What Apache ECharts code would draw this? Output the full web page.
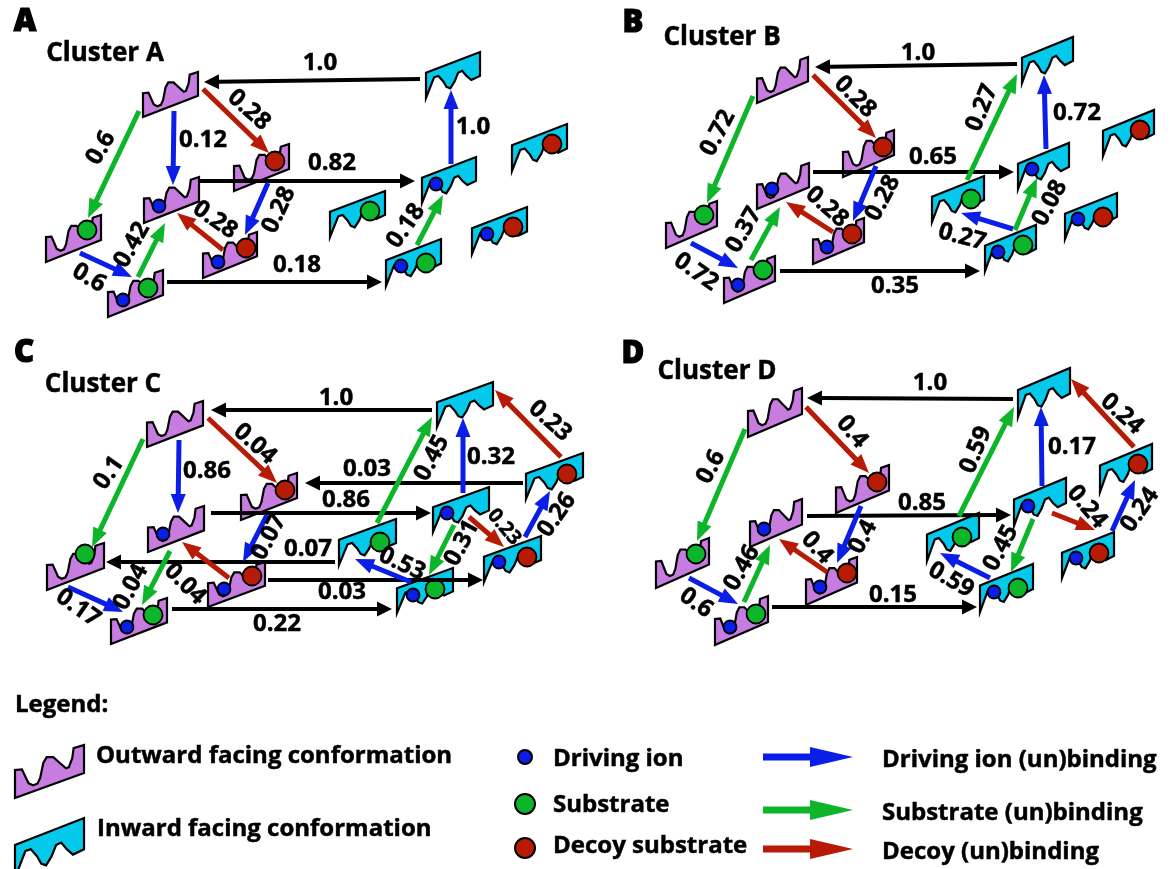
<!DOCTYPE html>
<html><head><meta charset="utf-8">
<style>html,body{margin:0;padding:0;background:#fff}#c{width:1175px;height:869px}</style>
<script src="https://cdn.jsdelivr.net/npm/echarts@6/dist/echarts.min.js"></script>
</head><body><div id="c"></div>
<script>
// Tiles: lower-left x,y then upper-right x,y
const outwardTiles = [
 [143,117,198,72],[46,262,101,215],[144,223,199,177],[234,191,289,144],[203,278,257,232],[108,317,163,270],
 [757,103,808,57],[666,248,717,201],[757,209,809,163],[843,177,894,130],[813,264,864,218],[724,303,775,256],
 [147,447,203,401],[47,590,104,543],[148,552,204,506],[241,520,297,473],[208,607,265,562],[111,644,167,598],
 [748,437,802,388],[656,588,709,538],[750,547,802,499],[836,513,889,465],[806,605,857,557],[715,645,768,596],
 [15,798,84,745]
];
const inwardTiles = [
 [426,98,480,52],[422,203,476,157],[512,171,567,124],[330,237,385,191],[386,286,441,239],[472,254,527,207],
 [1022,83,1073,37],[1018,189,1069,143],[1103,156,1154,110],[932,222,984,176],[985,271,1036,225],[1065,239,1117,193],
 [437,427,493,382],[433,532,489,487],[526,499,583,453],[339,565,396,519],[397,613,453,568],[484,582,541,536],
 [1018,417,1070,368],[1014,526,1066,478],[1100,492,1152,444],[927,561,979,513],[980,612,1033,564],[1062,578,1114,532],
 [15,878,84,818]
];
// Bound particles: x,y
const drivingIons = [
 [159,206],[218,262],[123,300],[436,184],[401,266],[487,234],
 [772,189],[827,247],[738,285],[1032,169],[998,252],[1078,219],
 [163,534],[224,589],[127,627],[447,513],[413,595],[499,562],
 [764,529],[820,587],[730,627],[1028,506],[994,592],[1076,558]
];
const substrates = [
 [87,230],[148,288],[370,211],[426,263],
 [704,215],[763,270],[971,199],[1023,245],
 [85,554],[153,615],[380,542],[435,589],
 [696,554],[756,614],[962,537],[1018,588]
];
const decoys = [
 [275,161],[246,248],[552,144],[513,227],
 [883,147],[852,234],[1140,130],[1103,217],
 [285,490],[252,576],[567,474],[527,557],
 [877,482],[847,573],[1138,464],[1099,553]
];
// Arrows: from x,y to tip x,y
const blackArrows = [
 [420,79,204,82],[200,181,415,181],[167,282,382,282],
 [1017,64,815,67],[813,172,1014,172],[780,271,980,271],
 [432,410,211,410],[523,483,305,483],[211,513,431,513],[335,562,106,562],[268,580,483,580],[172,609,392,609],
 [1013,399,807,398],[807,516,1011,515],[772,607,977,607]
];
const blueArrows = [
 [174,111,173,185],[268,183,245,235],[80,253,132,277],[451,164,451,90],
 [876,166,853,221],[691,243,738,268],[1046,149,1044,75],[1013,229,961,213],
 [179,440,178,513],[267,515,243,562],[68,587,123,612],[463,493,463,418],[411,582,355,559],[525,537,550,491],
 [861,506,837,563],[689,578,738,604],[1042,486,1041,407],[990,578,940,553],[1112,531,1135,480]
];
const greenArrows = [
 [139,111,88,218],[138,277,165,223],[417,245,443,195],
 [753,96,707,203],[751,260,780,207],[967,180,1017,74],[1015,230,1037,178],
 [143,439,92,547],[170,551,142,605],[377,523,432,417],[454,525,429,575],
 [745,429,697,541],[744,602,770,545],[959,516,1014,407],[1033,519,1011,572]
];
const redArrows = [
 [203,89,269,153],[223,250,177,213],
 [813,75,876,138],[833,232,786,202],
 [208,418,277,483],[229,578,182,542],[561,457,495,390],[469,517,504,547],
 [806,407,869,473],[827,572,779,539],[1134,447,1071,379],[1052,513,1095,530]
];
// Rate labels: text, centre x, centre y, rotation in degrees
const rateLabels = [
 ['1.0',320,63,0],['0.82',332,163,0],['1.0',473,127,0],['0.18',297,265,0],['0.12',203,140,0],
 ['0.6',101,148,60],['0.28',249,110,-42],['0.28',279,210,65],['0.28',215,220,-35],['0.42',132,245,60],['0.6',89,278,-30],['0.18',406,226,55],
 ['1.0',918,53,0],['0.65',933,157,0],['0.35',895,286,0],['0.72',1077,113,0],
 ['0.72',718,133,62],['0.28',855,97,-45],['0.28',883,198,62],['0.28',827,207,-42],['0.37',744,230,60],['0.72',696,272,-35],['0.27',982,108,68],['0.08',1050,203,62],['0.27',962,237,-15],
 ['1.0',336,398,0],['0.03',367,469,0],['0.86',346,500,0],['0.07',308,549,0],['0.03',342,592,0],['0.22',277,624,0],['0.86',207,471,0],['0.32',491,457,0],
 ['0.1',109,473,55],['0.04',255,444,-42],['0.07',269,537,62],['0.04',131,587,62],['0.04',185,584,-45],['0.17',78,608,-35],['0.45',432,458,62],['0.23',550,421,-42],['0.26',557,515,55],['0.31',462,543,62],['0.53',402,564,-25],
 ['1.0',930,383,0],['0.85',922,503,0],['0.15',893,595,0],['0.17',1072,447,0],
 ['0.6',711,467,62],['0.4',852,432,-50],['0.4',863,537,62],['0.4',817,548,-48],['0.46',742,568,60],['0.6',696,603,-35],['0.59',976,450,68],['0.24',1122,414,-42],['0.24',1087,507,-50],['0.24',1140,510,55],['0.45',1001,548,62],['0.59',951,580,-30]
];
const smallRateLabels = [['0.23',504,527,-50]];
const panelLetters = [['A',25,22],['B',633,23],['C',24,353],['D',633,354]];
const clusterTitles = [['Cluster A',105,54],['Cluster B',722,38],['Cluster C',103,385],['Cluster D',717,372]];
const legendTexts = [
 ['Legend:',15,705],['Outward facing conformation',96,756],['Inward facing conformation',97,829],
 ['Driving ion',553,759],['Substrate',553,805],['Decoy substrate',553,846],
 ['Driving ion (un)binding',882,760],['Substrate (un)binding',882,813],['Decoy (un)binding',882,852]
];
const legendIon = [[525,757]], legendSubstrate = [[525,804]], legendDecoy = [[525,848]];
const legendBlue = [[763,757,853,757]], legendGreen = [[763,810,853,810]], legendRed = [[763,849,853,849]];

// Tile outlines as fractions of the tile box (0,0 = lower left, y up)
const OUT_SHAPE = [[0,0],[1,.47],[1,1],[.85,.94],[.83,.75],[.78,.58],[.74,.56],[.65,.66],[.555,.77],[.46,.77],[.41,.66],[.364,.375],[.325,.27],[.26,.24],[.196,.28],[.10,.54],[0,.53]];
const IN_SHAPE = [[0,0],[0,.55],[1,1],[1,.48],[.84,.39],[.75,.48],[.67,.59],[.595,.55],[.53,.36],[.45,.21],[.38,.24],[.32,.36],[.23,.48],[.15,.45],[.07,.21]];

const COL = {purple:'#c77cdf',cyan:'#05c9ea',blue:'#0a1ee8',green:'#0cb52a',red:'#b71b05',black:'#000'};
const FONT = '"Open Sans"';

function tileSeries(rows, shape, fill){
  return {type:'custom',coordinateSystem:'cartesian2d',silent:true,z:2,clip:false,
    data:rows,encode:{x:[0,2],y:[1,3]},
    renderItem(p,api){
      const a=api.coord([api.value(0),api.value(1)]), b=api.coord([api.value(2),api.value(3)]);
      const w=b[0]-a[0], h=a[1]-b[1];
      return {type:'polygon',shape:{points:shape.map(s=>[a[0]+s[0]*w,a[1]-s[1]*h])},
        style:{fill:fill,stroke:'#000',lineWidth:2.2,lineJoin:'miter'}};
    }};
}
function dotSeries(rows, r, fill, sw){
  return {type:'custom',coordinateSystem:'cartesian2d',silent:true,z:3,clip:false,
    data:rows,encode:{x:0,y:1},
    renderItem(p,api){
      const c=api.coord([api.value(0),api.value(1)]);
      return {type:'circle',shape:{cx:c[0],cy:c[1],r:r},style:{fill:fill,stroke:'#000',lineWidth:sw||1.8}};
    }};
}
function arrowSeries(rows, color, shaft, headL, headW){
  return {type:'custom',coordinateSystem:'cartesian2d',silent:true,z:4,clip:false,
    data:rows,encode:{x:[0,2],y:[1,3]},
    renderItem(p,api){
      const a=api.coord([api.value(0),api.value(1)]), b=api.coord([api.value(2),api.value(3)]);
      const dx=b[0]-a[0], dy=b[1]-a[1], L=Math.hypot(dx,dy), ux=dx/L, uy=dy/L, nx=-uy, ny=ux;
      const bx=b[0]-ux*headL, by=b[1]-uy*headL, s=shaft/2, w=headW/2;
      return {type:'polygon',shape:{points:[
        [a[0]+nx*s,a[1]+ny*s],[bx+nx*s,by+ny*s],[bx+nx*w,by+ny*w],[b[0],b[1]],
        [bx-nx*w,by-ny*w],[bx-nx*s,by-ny*s],[a[0]-nx*s,a[1]-ny*s]]},style:{fill:color}};
    }};
}
function textSeries(rows, size, weight, align, extra){
  return {type:'custom',coordinateSystem:'cartesian2d',silent:true,z:5,clip:false,
    data:rows.map(r=>[r[1],r[2]]),encode:{x:0,y:1},
    renderItem(p,api){
      const r=rows[p.dataIndex], c=api.coord([r[1],r[2]]);
      return {type:'text',x:c[0],y:c[1],rotation:(r[3]||0)*Math.PI/180,
        style:Object.assign({text:r[0],fill:'#000',font:weight+' '+size+'px '+FONT,
          textAlign:align,textVerticalAlign:'middle',stroke:'#000',lineWidth:0.5},extra||{})};
    }};
}
const chart=echarts.init(document.getElementById('c'),null,{width:1175,height:869});
chart.setOption({
  animation:false,backgroundColor:'#fff',
  grid:{left:0,right:0,top:0,bottom:0},
  xAxis:{type:'value',min:0,max:1175,show:false},
  yAxis:{type:'value',min:0,max:869,inverse:true,show:false},
  series:[
    tileSeries(outwardTiles,OUT_SHAPE,COL.purple),
    tileSeries(inwardTiles,IN_SHAPE,COL.cyan),
    dotSeries(drivingIons,6.5,COL.blue),
    dotSeries(substrates,9.5,COL.green),
    dotSeries(decoys,9.5,COL.red),
    dotSeries(legendIon,7,COL.blue,2),
    dotSeries(legendSubstrate,10,COL.green,2),
    dotSeries(legendDecoy,10,COL.red,2),
    arrowSeries(blackArrows,COL.black,4,15,15),
    arrowSeries(blueArrows,COL.blue,5,19,15),
    arrowSeries(greenArrows,COL.green,5,19,15),
    arrowSeries(redArrows,COL.red,5,19,15),
    arrowSeries(legendBlue,COL.blue,7,43,20),
    arrowSeries(legendGreen,COL.green,7,43,20),
    arrowSeries(legendRed,COL.red,7,43,20),
    textSeries(rateLabels,24,700,'center'),
    textSeries(smallRateLabels,20,700,'center'),
    textSeries(panelLetters,31,800,'center',{lineWidth:1.2}),
    textSeries(clusterTitles,26,700,'center'),
    textSeries(legendTexts,24,700,'left')
  ]
});
</script></body></html>
